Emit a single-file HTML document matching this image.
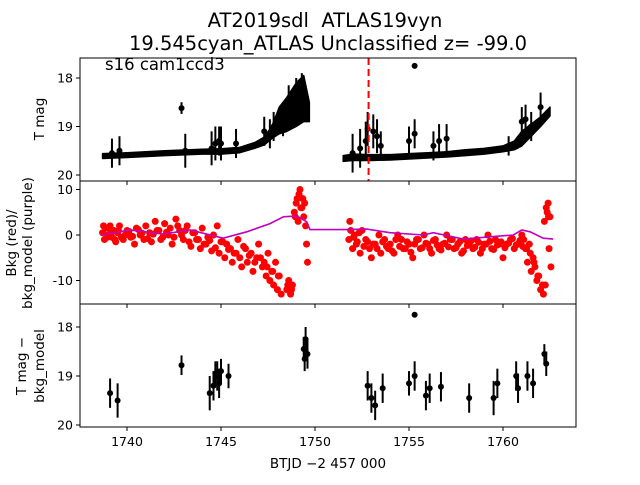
<!DOCTYPE html>
<html><head><meta charset="utf-8"><style>
body{margin:0;background:#fff}
svg{font-family:"DejaVu Sans","Liberation Sans",sans-serif}
</style></head><body>
<svg id="chart" width="640" height="480" xmlns="http://www.w3.org/2000/svg">
<rect width="640" height="480" fill="#fff"/>
<text x="325" y="27" font-size="19.5" text-anchor="middle" xml:space="preserve">AT2019sdl  ATLAS19vyn</text>
<text x="328" y="50" font-size="19.5" text-anchor="middle">19.545cyan_ATLAS Unclassified z= -99.0</text>
<g id="p1"></g>
<g id="p2"></g>
<g id="p3"></g>
<text x="105" y="70" font-size="16.5">s16 cam1ccd3</text>
<text x="328" y="468" font-size="13.5" text-anchor="middle">BTJD −2 457 000</text>
<text transform="translate(44,119) rotate(-90)" font-size="13.5" text-anchor="middle">T mag</text>
<text transform="translate(16,243) rotate(-90)" font-size="13.5" text-anchor="middle">Bkg (red)/</text>
<text transform="translate(32,243) rotate(-90)" font-size="13.5" text-anchor="middle">bkg_model (purple)</text>
<text transform="translate(26,366) rotate(-90)" font-size="13.5" text-anchor="middle">T mag −</text>
<text transform="translate(44,366) rotate(-90)" font-size="13.5" text-anchor="middle">bkg_model</text>
</svg>
<script>
// ---- data ----
const xTicks=[1740,1745,1750,1755,1760];
const p1Ticks=[18,19,20];
const p2Ticks=[10,0,-10];
const p3Ticks=[18,19,20];
const markerT=1752.85;
// band envelope panel 1 (time, upper mag, lower mag)
const bandT1=[1738.7,1740,1742,1744,1745,1746,1746.8,1747.3,1747.7,1748.1,1748.5,1749,1749.4,1749.7];
const bandHi1=[19.56,19.54,19.5,19.47,19.46,19.43,19.33,19.22,19.0,18.6,18.4,18.1,17.95,18.5];
const bandLo1=[19.66,19.64,19.6,19.57,19.57,19.54,19.45,19.38,19.25,19.15,19.1,19.0,18.9,18.9];
const bandT2=[1751.5,1752,1753,1754,1755,1756,1757,1758,1759,1760,1760.6,1761,1761.5,1762,1762.5];
const bandHi2=[19.6,19.57,19.58,19.58,19.56,19.54,19.52,19.48,19.45,19.4,19.3,19.1,18.95,18.8,18.6];
const bandLo2=[19.72,19.7,19.7,19.69,19.67,19.65,19.63,19.6,19.57,19.52,19.48,19.4,19.2,19.0,18.78];
// outlier points with error bars panel 1
const o1T=[1739.2,1739.6,1742.9,1743.1,1744.5,1744.7,1744.9,1745.0,1745.8,1747.3,1747.6,1747.8,1748.3,1748.6,1749.0,1749.3,1752.0,1752.4,1752.7,1752.8,1753.1,1753.3,1753.5,1755.0,1755.3,1755.3,1756.3,1756.6,1757.0,1760.3,1761.0,1761.2,1761.5,1762.0];
const o1M=[19.55,19.5,18.62,19.5,19.45,19.35,19.3,19.35,19.35,19.1,19.15,19.0,18.9,18.5,18.3,18.2,19.55,19.45,19.3,19.05,19.1,19.2,19.4,19.3,19.15,17.75,19.4,19.3,19.25,19.4,18.9,18.85,19.0,18.6];
const o1E=[0.3,0.3,0.12,0.35,0.35,0.35,0.3,0.35,0.3,0.3,0.3,0.3,0.3,0.35,0.3,0.3,0.4,0.4,0.4,0.35,0.35,0.35,0.3,0.3,0.3,0.03,0.3,0.35,0.3,0.2,0.3,0.3,0.3,0.3];
// background (red) panel 2
const bkgT=[1738.7,1738.8,1738.9,1739.0,1739.1,1739.2,1739.3,1739.4,1739.5,1739.6,1739.8,1740.0,1740.2,1740.4,1740.5,1740.7,1740.9,1741.0,1741.2,1741.3,1741.5,1741.7,1741.9,1742.0,1742.2,1742.4,1742.6,1742.8,1743.0,1743.2,1743.4,1743.5,1743.7,1743.9,1744.0,1744.2,1744.3,1744.5,1744.6,1744.8,1744.9,1745.0,1745.2,1745.3,1745.5,1745.6,1745.8,1745.9,1746.0,1746.1,1746.3,1746.4,1746.6,1746.7,1746.9,1747.0,1747.2,1747.3,1747.4,1747.5,1747.6,1747.7,1747.8,1747.9,1748.0,1748.1,1748.2,1748.5,1748.6,1748.7,1748.8,1748.9,1749.0,1749.1,1749.15,1749.2,1749.3,1749.35,1749.4,1749.5,1749.55,1749.6,
1751.8,1751.9,1752.0,1752.1,1752.2,1752.4,1752.5,1752.7,1752.9,1753.0,1753.2,1753.4,1753.5,1753.7,1753.9,1754.0,1754.2,1754.4,1754.6,1754.8,1755.0,1755.2,1755.4,1755.6,1755.8,1756.0,1756.2,1756.4,1756.6,1756.8,1757.0,1757.2,1757.4,1757.6,1757.8,1758.0,1758.2,1758.4,1758.6,1758.8,1759.0,1759.2,1759.4,1759.6,1759.8,1760.0,1760.2,1760.4,1760.6,1760.8,1761.0,1761.1,1761.2,1761.3,1761.4,1761.5,1761.6,1761.7,1761.8,1761.9,1762.0,1762.1,1762.15,1762.2,1762.3,1762.35,1762.4,1762.45,1762.5,1762.55,
1738.75,1738.95,1739.15,1739.35,1739.55,1739.7,1739.9,1740.1,1740.3,1740.6,1740.8,1741.1,1741.4,1741.6,1741.8,1742.1,1742.3,1742.5,1742.7,1742.9,1743.1,1743.3,1743.6,1743.8,1744.1,1744.4,1744.7,1745.1,1745.4,1745.7,1746.2,1746.5,1746.8,1747.1,1747.45,1747.75,1748.05,1748.55,1748.75,1748.95,1749.05,1749.25,1749.45,
1751.85,1752.05,1752.25,1752.35,1752.6,1752.8,1753.1,1753.3,1753.6,1753.8,1754.1,1754.3,1754.5,1754.7,1754.9,1755.1,1755.3,1755.5,1755.7,1755.9,1756.1,1756.3,1756.5,1756.7,1756.9,1757.1,1757.3,1757.5,1757.7,1757.9,1758.1,1758.3,1758.5,1758.7,1758.9,1759.1,1759.3,1759.5,1759.7,1759.9,1760.1,1760.3,1760.5,1760.7,1760.9,1761.05,1761.25,1761.45,1761.65,1761.85,1762.25,1762.42];
const bkgV=[0.5,-1,1.5,0,2,-0.5,1,-1.5,0.5,2,-1,1,-0.5,-2,1.5,0,-1,2,0.5,-1.5,3,1,-0.5,2.5,0,-2,3.5,1,-1,2,-2.5,0.5,-1,-3,1.5,-2,-0.5,-3.5,0,2,-4,-1.5,-5,-2,-3,-6,-4,-1,-5,-7,-3,-6,-4,-8,-5,-2,-7,-6,-9,-4,-10,-8,-11,-6,-12,-9,-13,-12,-10,-13,-11,5,7,3,9,10,6,8,4,2,-2,-6,
-1,1,-3,0,-2,-4,1,-1,-3,-5,-2,0,-4,-1,-3,-2,-4,0,-1,-3,-2,-5,-1,-3,0,-2,-4,-1,-3,-2,0,-1,-3,-2,-4,-1,-2,-3,-1,-4,-2,0,-3,-1,-2,-5,-2,-1,-3,-2,0,-1,-3,-6,-2,-8,-5,-7,-10,-9,-12,-11,-13,3,6,5,7,-3,4,-7,2,
-0.5,0.5,-1,1,-0.5,0,0.8,-0.3,1.2,0.4,-0.8,0.2,1,-1,0.6,1.5,-0.5,2,0,1,-1.5,0.5,-1,-2,-1.2,-2.8,-1.5,-3.2,-4,-2.5,-4.5,-6,-5,-7,-8,-9,-11,-12,4,8,6,7,3,
-0.5,-1.5,0.5,-2.5,-1.5,-2,-3,-1.5,-2.5,-3.5,-1,-2.5,-3,-1.5,-3.8,-2,-1,-2.8,-1.8,-3,-1.2,-2.2,-3.3,-1.8,-2.6,-1,-2.8,-1.5,-3.5,-2.3,-1.3,-2.7,-1.6,-3,-2,-1.4,-3.2,-2.2,-1.5,-2.8,-1.8,-0.8,-2.2,-1.2,-2.5,-3,-4,-6,-9,-11,4,5];
// background model (purple)
const modelT=[1738.65,1740.16,1741.93,1743.35,1745.12,1746.37,1747.61,1748.32,1749.03,1749.56,1749.73,1751.69,1752.75,1753.99,1755.76,1756.29,1757.89,1759.31,1760.55,1761.0,1761.44,1762.14,1762.67];
const modelV=[0,1.1,0.2,1.1,-0.7,0.7,2.5,4.0,4.2,2.9,1.2,1.2,1.3,0.5,0,0.5,-0.9,-0.4,0,1.1,0.7,-0.7,-0.9];
// panel 3 points
const p3T=[1739.1,1739.5,1742.9,1744.4,1744.6,1744.7,1744.8,1744.9,1745.0,1745.4,1749.4,1749.5,1749.6,1749.45,1752.8,1753.0,1753.2,1753.6,1755.0,1755.3,1755.3,1755.9,1756.1,1756.7,1758.2,1759.5,1759.7,1760.7,1760.8,1761.3,1761.6,1762.2,1762.3];
const p3M=[19.35,19.5,18.78,19.35,19.2,18.95,19.0,19.15,18.9,19.0,18.45,18.25,18.55,18.65,19.2,19.45,19.6,19.25,19.15,17.75,19.0,19.4,19.25,19.22,19.45,19.45,19.15,19.0,19.25,19.0,19.15,18.55,18.75];
const p3E=[0.3,0.35,0.2,0.35,0.3,0.25,0.3,0.3,0.25,0.25,0.25,0.25,0.3,0.25,0.3,0.3,0.3,0.3,0.25,0.03,0.3,0.3,0.3,0.3,0.3,0.35,0.3,0.3,0.3,0.3,0.3,0.2,0.25];

// ---- axes ----
const L=80,R=576;
const X=t=>127+(t-1740)*18.8;
const Y1=m=>78+(m-18)*48.5;
const Y2=v=>235-v*4.55;
const Y3=m=>327+(m-18)*49;
const NS="http://www.w3.org/2000/svg";
function el(tag,attrs,parent){const e=document.createElementNS(NS,tag);for(const k in attrs)e.setAttribute(k,attrs[k]);parent.appendChild(e);return e;}
function frame(g,top,bot,ticks,Y,name,showX){
  const r=el('rect',{x:L,y:top,width:R-L,height:bot-top,fill:'none',stroke:'#000','stroke-width':1},g);
  
  
  ticks.forEach(v=>{
    const y=Y(v);
    const tl=el('line',{x1:L-4,x2:L,y1:y,y2:y,stroke:'#000'},g);
    
    
    const tx=el('text',{x:L-7,y:y+4.5,'font-size':12.5,'text-anchor':'end'},g);
    tx.textContent=v;
    
    
  });
  xTicks.forEach(t=>{
    const x=X(t);
    const tl=el('line',{x1:x,x2:x,y1:bot,y2:bot+4,stroke:'#000'},g);
    
    
    if(showX){
      const tx=el('text',{x:x,y:bot+19,'font-size':12.5,'text-anchor':'middle'},g);
      tx.textContent=t;
      
      
    }
  });
}
function errPts(g,T,M,E,Y,name){
  T.forEach((t,i)=>{
    const x=X(t);
    const l=el('line',{x1:x,x2:x,y1:Y(M[i]-E[i]),y2:Y(M[i]+E[i]),stroke:'#000','stroke-width':2},g);
    
    
    const c=el('circle',{cx:x,cy:Y(M[i]),r:3,fill:'#000'},g);
    
    
  });
}
function band(g,T,H,Lo){
  let d='M'+T.map((t,i)=>X(t)+','+Y1(H[i])).join('L');
  for(let i=T.length-1;i>=0;i--)d+='L'+X(T[i])+','+Y1(Lo[i]);
  const p=el('path',{d:d+'Z',fill:'#000',stroke:'#000','stroke-width':1.5,'stroke-linejoin':'round'},g);
  
  
}
const g1=document.getElementById('p1'),g2=document.getElementById('p2'),g3=document.getElementById('p3');
// panel 1
band(g1,bandT1,bandHi1,bandLo1);
band(g1,bandT2,bandHi2,bandLo2);
errPts(g1,o1T,o1M,o1E,Y1,'tmag');
const ml=el('line',{x1:X(markerT),x2:X(markerT),y1:58,y2:181,stroke:'#f00','stroke-width':2,'stroke-dasharray':'7,4'},g1);


frame(g1,58,181,p1Ticks,Y1,'tmag',false);
// panel 2
bkgT.forEach((t,i)=>{
  const c=el('circle',{cx:X(t),cy:Y2(bkgV[i]),r:3.5,fill:'#f00'},g2);
  
  
});
const mp=el('polyline',{points:modelT.map((t,i)=>X(t)+','+Y2(modelV[i])).join(' '),fill:'none',stroke:'#bf00bf','stroke-width':1.6},g2);


frame(g2,181,304,p2Ticks,Y2,'bkg',false);
// panel 3
errPts(g3,p3T,p3M,p3E,Y3,'diff');
frame(g3,304,427,p3Ticks,Y3,'diff',true);
</script>
</body></html>
